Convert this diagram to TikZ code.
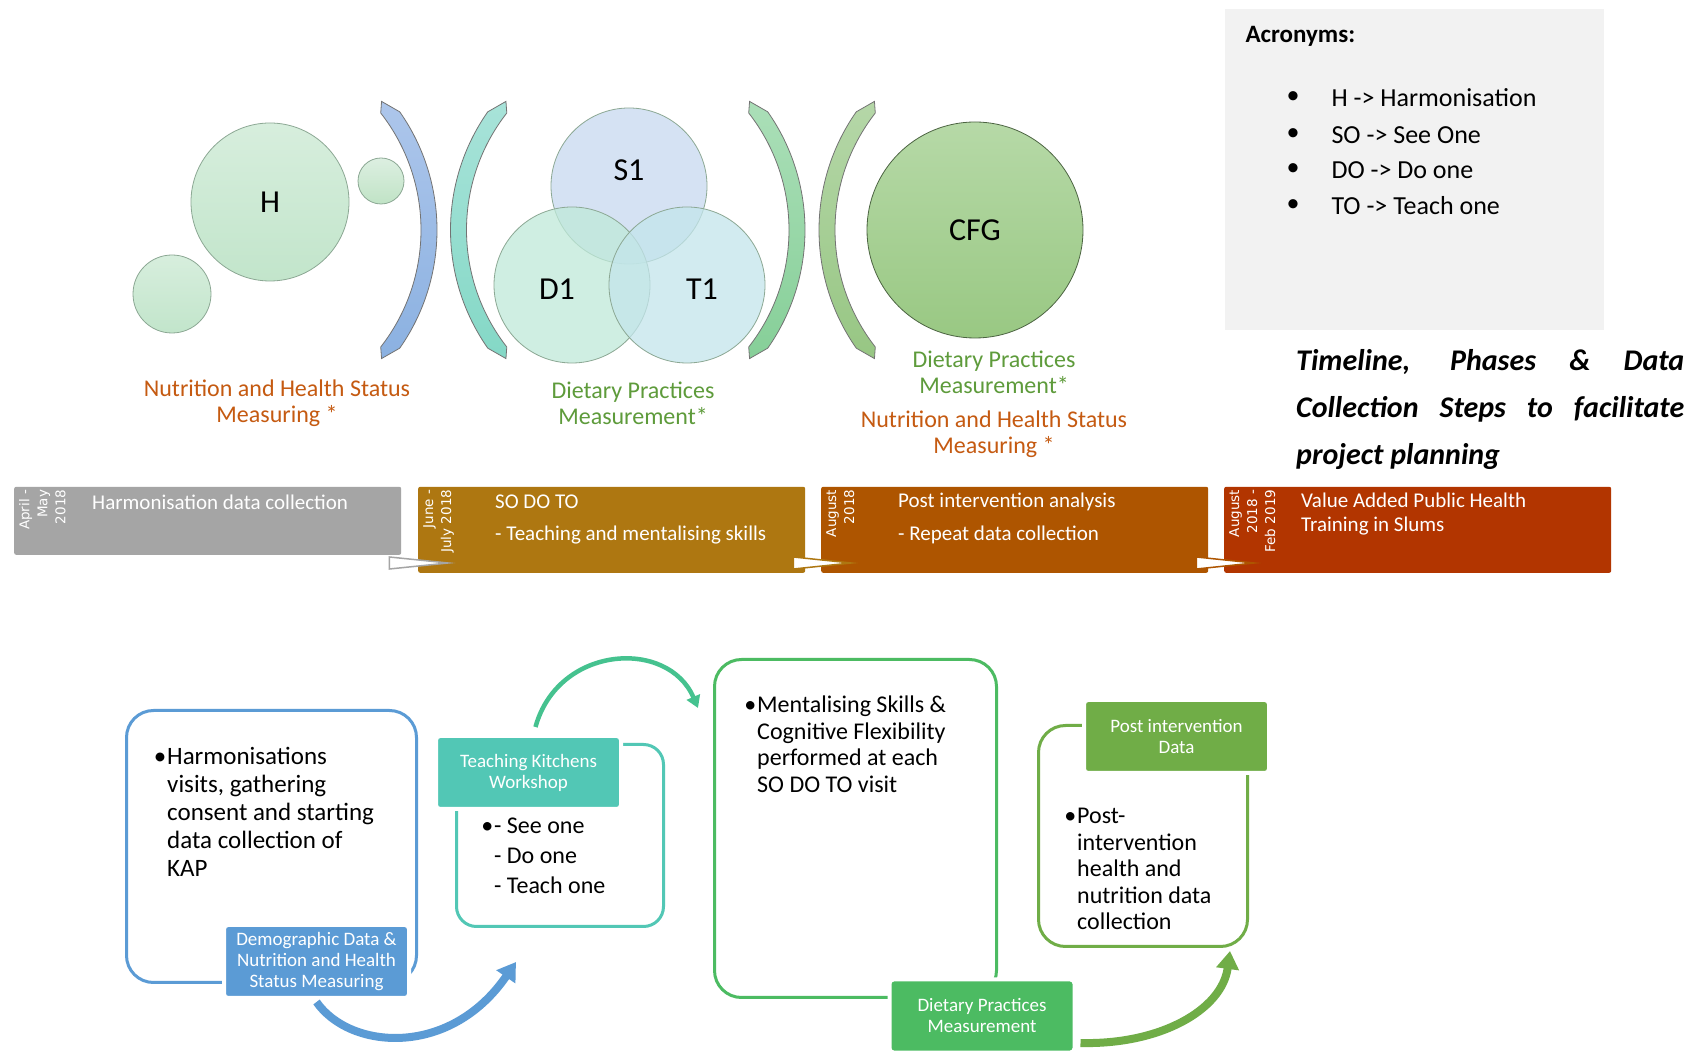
\documentclass[tikz,border=0pt]{standalone}
\usepackage{fontspec}
\setmainfont{Carlito}
\newfontfamily\datefont{DejaVu Sans}
\usetikzlibrary{arrows.meta,calc}

\definecolor{stepgray}{HTML}{A5A5A5}
\definecolor{stepgold}{HTML}{AE7711}
\definecolor{stepbrown}{HTML}{AE5500}
\definecolor{stepred}{HTML}{B23500}
\definecolor{noteorange}{HTML}{C55A11}
\definecolor{notegreen}{HTML}{5E9B3B}
\definecolor{acrgray}{HTML}{F2F2F2}
\definecolor{mintlight}{HTML}{D7EEDD}
\definecolor{mintdark}{HTML}{C2E5CB}
\definecolor{ringgray}{HTML}{8CA894}
\definecolor{seeblue}{HTML}{C8D9EF}
\definecolor{doonemint}{HTML}{BFE9D9}
\definecolor{teachcyan}{HTML}{C3E5EB}
\definecolor{cfgtop}{HTML}{B6D9A7}
\definecolor{cfgbottom}{HTML}{99C883}
\definecolor{bandbluetop}{HTML}{ADC6EB}
\definecolor{bandbluebottom}{HTML}{8BB1E1}
\definecolor{bandtealtop}{HTML}{A8E3D9}
\definecolor{bandtealbottom}{HTML}{84D8C6}
\definecolor{bandgreentop}{HTML}{ABDFB8}
\definecolor{bandgreenbottom}{HTML}{86CF98}
\definecolor{bandolivetop}{HTML}{B5D7A8}
\definecolor{bandolivebottom}{HTML}{97C683}
\definecolor{kapblue}{HTML}{5B9BD5}
\definecolor{kitchenteal}{HTML}{52C7B5}
\definecolor{mentalgreen}{HTML}{4CBB62}
\definecolor{postgreen}{HTML}{70AD47}
\definecolor{arrowteal}{HTML}{45C28F}

% curved band with pointed ends: x of centre, xscale, top, bottom, line
\newcommand{\arcband}[5]{%
  \draw[shift={(#1,820)},xscale=#2,top color=#3,bottom color=#4,draw=#5,line width=0.8pt]
    (35:206) arc[start angle=35,end angle=-35,radius=206] -- (-40.5:198) -- (-38:190)
    arc[start angle=-38,end angle=38,radius=190] -- (40.5:198) -- cycle;}

\begin{document}
\begin{tikzpicture}[x=1pt,y=1pt,>=Stealth,
  phase/.style={anchor=south west,inner sep=0pt,rounded corners=2pt,minimum width=387pt},
  phasetext/.style={anchor=west,inner sep=0pt,align=left,text=white,font=\fontsize{21}{24}\selectfont},
  datetext/.style={rotate=90,anchor=north east,inner sep=0pt,align=right,text=white,font=\datefont\fontsize{13.5}{18}\selectfont},
  chevron/.style={fill=white,line width=1.5pt},
  bubble/.style={circle,inner sep=0pt,line width=0.8pt,draw=ringgray,font=\fontsize{32}{36}\selectfont},
  note/.style={align=center,inner sep=0pt,font=\fontsize{24}{26}\selectfont},
  card/.style={anchor=south west,inner sep=0pt,line width=3pt,rounded corners=27pt},
  cardtext/.style={anchor=west,align=left,inner sep=0pt,font=\fontsize{24}{26.5}\selectfont},
  tag/.style={fill=#1,draw=white,line width=4pt,rounded corners=4pt,text=white,align=center,
    minimum width=185pt,minimum height=73pt,inner sep=0pt,font=\fontsize{19}{21}\selectfont},
  bigarrow/.style={line width=8pt,-{Triangle[width=22pt,length=18pt]}}]

  % Canvas
  \path[use as bounding box,fill=white] (0,0) rectangle (1690,1050);

  % Acronyms
  \node[fill=acrgray,anchor=north west,inner sep=0pt,minimum width=379pt,minimum height=321pt] (acrbox) at (1225,1041) {};
  \node[anchor=west,font=\fontsize{25}{28}\selectfont\bfseries] (acrtitle) at (1242,1014) {Acronyms:};
  \foreach \y/\name/\txt in {952/acrh/{H -> Harmonisation},915/acrso/{SO -> See One},880/acrdo/{DO -> Do one},844/acrto/{TO -> Teach one}}{
    \node[font=\fontsize{26}{30}\selectfont] (\name dot) at (1293,\y) {\textbullet};
    \node[anchor=west,font=\fontsize{26}{30}\selectfont] (\name) at (1328,\y) {\txt};
  }
  \node[anchor=north west,inner sep=0pt,text width=388pt,align=justify,font=\fontsize{30}{47}\selectfont\bfseries\itshape] (plantitle) at (1296,701)
    {Timeline, Phases \& Data\linebreak Collection Steps to facilitate\linebreak project planning};

  % Harmonisation circles
  \node[bubble,minimum size=158pt,top color=mintlight,bottom color=mintdark] (harmcircle) at (270,848) {H};
  \node[bubble,minimum size=78pt,top color=mintlight,bottom color=mintdark] (harmdotleft) at (172,756) {};
  \node[bubble,minimum size=46pt,top color=mintlight!80!acrgray,bottom color=mintdark!85!cfgtop] (harmdotright) at (381,869) {};

  % Brackets
  \arcband{231}{1}{bandbluetop}{bandbluebottom}{black!55}
  \arcband{656.5}{-1}{bandtealtop}{bandtealbottom}{black!55}
  \arcband{599}{1}{bandgreentop}{bandgreenbottom}{black!55}
  \arcband{1025}{-1}{bandolivetop}{bandolivebottom}{black!55}

  % SO DO TO circles
  \node[bubble,minimum size=156pt,fill=seeblue,fill opacity=.75,text opacity=1] (seeone) at (629,864) {};
  \node[bubble,minimum size=156pt,fill=doonemint,fill opacity=.75,text opacity=1] (doone) at (572,765) {};
  \node[bubble,minimum size=156pt,fill=teachcyan,fill opacity=.75,text opacity=1] (teachone) at (687,765) {};
  \node[font=\fontsize{32}{36}\selectfont] (seetext) at ($(seeone)+(0,16)$) {S1};
  \node[font=\fontsize{32}{36}\selectfont] (dotext) at ($(doone)+(-15,-4)$) {D1};
  \node[font=\fontsize{32}{36}\selectfont] (teachtext) at ($(teachone)+(15,-4)$) {T1};

  % CFG circle
  \node[bubble,minimum size=216pt,draw=black!50!cfgbottom,top color=cfgtop,bottom color=cfgbottom] (cfg) at (975,820) {CFG};

  % Measurement notes
  \node[note,text=noteorange] (harmnote) at (277,647) {Nutrition and Health Status\\Measuring *};
  \node[note,text=notegreen] (sdtnote) at (633,647) {Dietary Practices\\Measurement*};
  \node[note,text=notegreen] (cfgdiet) at (994,678) {Dietary Practices\\Measurement*};
  \node[note,text=noteorange] (cfgnut) at (994,616) {Nutrition and Health Status\\Measuring *};

  % Timeline
  \node[phase,fill=stepgray,minimum height=68pt] (harmphase) at (14,495) {};
  \node[phase,fill=stepgold,minimum height=86pt] (sdtphase) at (418,477) {};
  \node[phase,fill=stepbrown,minimum height=86pt] (postphase) at (821,477) {};
  \node[phase,fill=stepred,minimum height=86pt] (slumphase) at (1224,477) {};
  \draw[chevron,draw=stepgray] ($(harmphase.south east)+(-12,-2)$) -- ($(sdtphase.south west)+(30,10)$) -- ($(harmphase.south east)+(-12,-14)$) -- cycle;
  \draw[chevron,draw=stepgold] ($(sdtphase.south east)+(-12,16)$) -- ($(postphase.south west)+(30,10)$) -- ($(sdtphase.south east)+(-12,4)$) -- cycle;
  \draw[chevron,draw=stepbrown] ($(postphase.south east)+(-12,16)$) -- ($(slumphase.south west)+(30,10)$) -- ($(postphase.south east)+(-12,4)$) -- cycle;
  \node[datetext] (harmdate) at ($(harmphase.north west)+(5,-3)$) {April -\\May\\2018};
  \node[datetext] (sdtdate) at ($(sdtphase.north west)+(5,-3)$) {June -\\July 2018};
  \node[datetext] (postdate) at ($(postphase.north west)+(5,-3)$) {August\\2018};
  \node[datetext] (slumdate) at ($(slumphase.north west)+(5,-3)$) {August\\2018 -\\Feb 2019};
  \node[phasetext] (harmtext) at (92,548) {Harmonisation data collection};
  \node[phasetext] (sdttitle) at (495,548) {SO DO TO};
  \node[phasetext] (sdtitem) at (495,515) {- Teaching and mentalising skills};
  \node[phasetext] (posttitle) at (898,548) {Post intervention analysis};
  \node[phasetext] (postitem) at (898,515) {- Repeat data collection};
  \node[phasetext] (slumtext) at (1301,536) {Value Added Public Health\\Training in Slums};

  % Cards
  \node[card,draw=kapblue,minimum width=290pt,minimum height=272pt] (kapcard) at (125,66) {};
  \node[card,draw=kitchenteal,minimum width=207pt,minimum height=182pt,rounded corners=20pt] (kitchencard) at (455,122) {};
  \node[card,draw=mentalgreen,minimum width=282pt,minimum height=338pt] (mentalcard) at (713,51) {};
  \node[card,draw=postgreen,minimum width=209pt,minimum height=221pt] (postcard) at (1037,102) {};
  \node[cardtext,font=\fontsize{25}{28}\selectfont] (kaptext) at (167,238.5)
    {\llap{\textbullet\hspace{1pt}}Harmonisations\\visits, gathering\\consent and starting\\data collection of\\KAP};
  \node[cardtext,font=\fontsize{24}{30}\selectfont] (kitchentext) at (494,194)
    {\llap{\textbullet\hspace{1pt}}- See one\\- Do one\\- Teach one};
  \node[cardtext] (mentaltext) at (757,305.5)
    {\llap{\textbullet\hspace{1pt}}Mentalising Skills \&\\Cognitive Flexibility\\performed at each\\SO DO TO visit};
  \node[cardtext] (posttext) at (1077,181)
    {\llap{\textbullet\hspace{1pt}}Post-\\intervention\\health and\\nutrition data\\collection};

  % Tags
  \node[tag=kapblue] (kaptag) at (316.5,88.5) {Demographic Data \&\\Nutrition and Health\\Status Measuring};
  \node[tag=kitchenteal] (kitchentag) at (528.5,277.5) {Teaching Kitchens\\Workshop};
  \node[tag=mentalgreen] (diettag) at (982,34) {Dietary Practices\\Measurement};
  \node[tag=postgreen] (posttag) at (1176.5,313.5) {Post intervention\\Data};

  % Arrows
  \coordinate (kapout) at ($(kaptag.south)+(0,-2)$);
  \coordinate (kitchenin) at ($(kitchencard.south west)+(61,-34)$);
  \coordinate (kitchenout) at ($(kitchentag.north)+(7,7)$);
  \coordinate (mentalin) at ($(mentalcard.north west)+(-15,-50)$);
  \coordinate (dietout) at ($(diettag.east)+(4,-27)$);
  \coordinate (postin) at ($(postcard.south east)+(-19,-3)$);
  \draw[bigarrow,kapblue] (kapout) .. controls (350,0) and (450,-8) .. (kitchenin);
  \draw[line width=4.5pt,arrowteal,-{Triangle[width=14pt,length=12pt]}] (kitchenout) .. controls (558,405) and (668,412) .. (mentalin);
  \draw[bigarrow,postgreen] (dietout) .. controls (1160,5) and (1222,40) .. (postin);
\end{tikzpicture}
\end{document}
